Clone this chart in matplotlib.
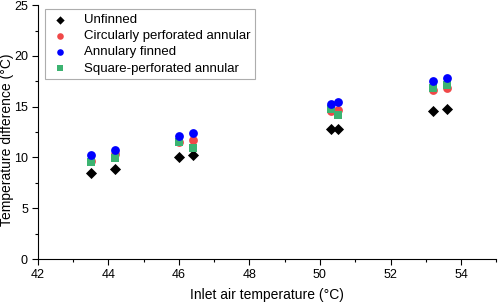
import matplotlib
matplotlib.use("Agg")
import matplotlib.pyplot as plt
from matplotlib.ticker import MultipleLocator

plt.rcParams['font.family'] = ['Liberation Sans', 'DejaVu Sans']

# inlet air temperature (°C) and temperature difference (°C) per configuration
x = [43.5, 44.2, 46.0, 46.4, 50.3, 50.5, 53.2, 53.6]
unfinned = [8.5, 8.9, 10.0, 10.25, 12.8, 12.85, 14.6, 14.75]
circ_perf = [9.7, 10.3, 11.5, 11.75, 14.6, 14.65, 16.65, 16.85]
annular = [10.2, 10.75, 12.1, 12.4, 15.3, 15.5, 17.5, 17.85]
square_perf = [9.6, 9.95, 11.5, 10.9, 14.75, 14.2, 16.8, 17.1]

fig = plt.figure(figsize=(4.98, 3.03), dpi=100)
ax = fig.add_axes([0.0757, 0.145, 0.921, 0.838])

ax.scatter(x, unfinned, marker='D', s=32, color='black', lw=0, zorder=3, label='Unfinned')
ax.scatter(x, circ_perf, marker='o', s=40, color='#f04848', lw=0, zorder=4, label='Circularly perforated annular')
ax.scatter(x, annular, marker='o', s=40, color='#0000ff', lw=0, zorder=6, label='Annulary finned')
ax.scatter(x, square_perf, marker='s', s=32, color='#3cb371', lw=0, zorder=5, label='Square-perforated annular')

ax.set_xlim(42, 55)
ax.set_ylim(0, 25)
ax.xaxis.set_major_locator(MultipleLocator(2))
ax.xaxis.set_minor_locator(MultipleLocator(1))
ax.yaxis.set_major_locator(MultipleLocator(5))
ax.yaxis.set_minor_locator(MultipleLocator(2.5))
ax.tick_params(which='major', direction='out', length=4, width=0.8, labelsize=9, pad=3)
ax.tick_params(which='minor', direction='out', length=2, width=0.8)
for side in ['top', 'right']:
    ax.spines[side].set_visible(False)

ax.set_xlabel('Inlet air temperature (°C)', fontsize=10)
ax.xaxis.set_label_coords(0.5, -0.112)
ax.set_ylabel('Temperature difference (°C)', fontsize=10)
ax.yaxis.set_label_coords(-0.052, 0.47)

leg = ax.legend(loc='upper left', bbox_to_anchor=(0.016, 0.984), borderaxespad=0,
                fontsize=9.5, frameon=True, fancybox=False, edgecolor='#999999',
                handletextpad=1.0, labelspacing=0.3, borderpad=0.35, handlelength=1.6,
                markerscale=0.75)
leg.get_frame().set_linewidth(0.8)

fig.savefig('out.png', dpi=100)
